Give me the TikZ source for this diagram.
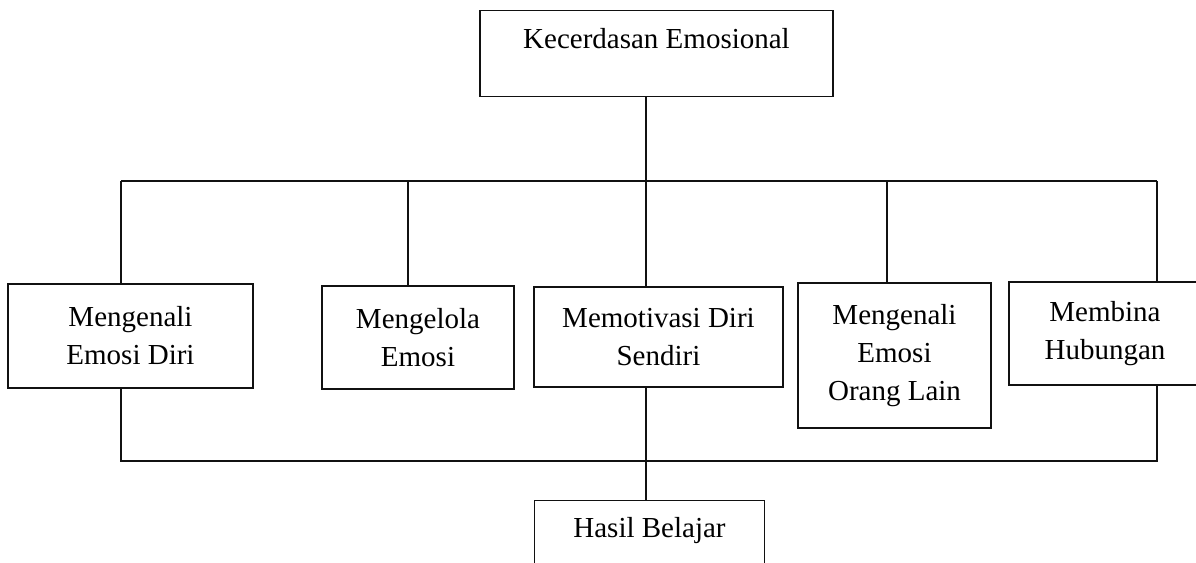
\documentclass[tikz,border=0pt]{standalone}
\usepackage{fontspec}
\setmainfont{Liberation Serif}
\usetikzlibrary{positioning,calc}
\definecolor{ink}{HTML}{111111}
\tikzset{
  box/.style={draw=ink, line width=0.6pt, fill=white, align=center, inner sep=0pt, font=\fontsize{14.5}{19}\selectfont},
  link/.style={draw=ink, line width=0.9pt}
}
\begin{document}
\begin{tikzpicture}[x=0.5pt,y=-0.5pt]
\clip (0,0) rectangle (1196,563);

% Boxes
\node[box, minimum width=176.5pt, text height=19pt, text depth=24pt, anchor=north] (emosi) at (656.5,10) {Kecerdasan Emosional};
\node[box, minimum width=122.5pt, minimum height=52pt] (kenaldiri) at (130.5,336) {Mengenali\\Emosi Diri};
\node[box, minimum width=96pt, minimum height=51.5pt] (kelola) at (418,337.5) {Mengelola\\Emosi};
\node[box, minimum width=124.5pt, minimum height=50pt] (motivasi) at (658.5,337) {Memotivasi Diri\\Sendiri};
\node[box, minimum width=96.5pt, minimum height=72.5pt] (kenallain) at (894.5,355.5) {Mengenali\\Emosi\\Orang Lain};
\node[box, minimum width=96pt, minimum height=51.5pt] (bina) at (1105,333.5) {Membina\\Hubungan};
\node[box, minimum width=115pt, text height=18.5pt, text depth=30pt, anchor=north] (hasil) at (649.5,500) {Hasil Belajar};

% Bus points
\coordinate (t1) at (121,181);
\coordinate (t2) at (408,181);
\coordinate (t3) at (646,181);
\coordinate (t4) at (887,181);
\coordinate (t5) at (1157,181);
\coordinate (b1) at (121,461);
\coordinate (b5) at (1157,461);

% Top branches
\draw[link] (t3 |- emosi.south) -- (t3);
\draw[link] (t1) -- (t5);
\draw[link] (t1) -- (t1 |- kenaldiri.north);
\draw[link] (t2) -- (t2 |- kelola.north);
\draw[link] (t3) -- (t3 |- motivasi.north);
\draw[link] (t4) -- (t4 |- kenallain.north);
\draw[link] (t5) -- (t5 |- bina.north);

% Bottom branches
\draw[link] (b1 |- kenaldiri.south) -- (b1) -- (b5) -- (b5 |- bina.south);
\draw[link] (t3 |- motivasi.south) -- (t3 |- hasil.north);

\end{tikzpicture}
\end{document}
